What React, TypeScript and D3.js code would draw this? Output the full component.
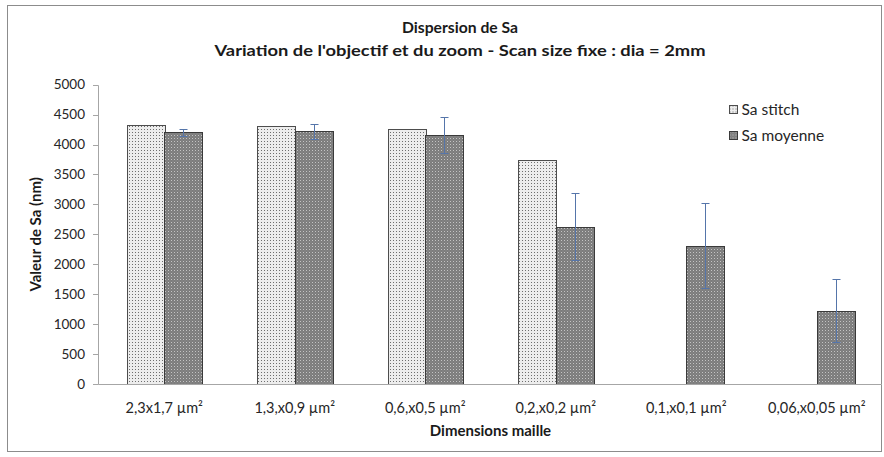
import React from "react";
import * as d3 from "d3";

const categories = ["2,3x1,7 µm²", "1,3,x0,9 µm²", "0,6,x0,5 µm²", "0,2,x0,2 µm²", "0,1,x0,1 µm²", "0,06,x0,05 µm²"];
const series = ["Sa stitch", "Sa moyenne"];
const saStitch: (number | null)[] = [4325, 4305, 4265, 3735, null, null];
const saMoyenne = [4205, 4220, 4160, 2625, 2312, 1222];
const saErr = [61, 122, 298, 558, 715, 526];
const yTicks = [0, 500, 1000, 1500, 2000, 2500, 3000, 3500, 4000, 4500, 5000];

const W = 884;
const H = 457;
const font = "Lato, 'Open Sans', 'DejaVu Sans', sans-serif";

export default function App() {
  const x0 = d3.scaleBand<string>().domain(categories).range([99, 882]).padding(0);
  const x1 = d3.scaleBand<string>().domain(series).range([0, x0.bandwidth()]).paddingInner(0).paddingOuter(0.74);
  const y = d3.scaleLinear().domain([0, 5000]).range([384, 84.7]);
  const snap = (v: number) => Math.round(v) + 0.5;

  return (
    <div style={{ position: "fixed", left: 0, top: 0, width: W, height: H, background: "#fff" }}>
      <svg width={W} height={H} style={{ display: "block", fontFamily: font }}>
        <defs>
          <pattern id="pStitch" patternUnits="userSpaceOnUse" width={3} height={3}>
            <rect width={3} height={3} fill="#ededed" />
            <rect width={1} height={1} fill="#6e6e6e" />
          </pattern>
          <pattern id="pMoy" patternUnits="userSpaceOnUse" width={3} height={3}>
            <rect width={3} height={3} fill="#7c7c7c" />
            <rect width={1} height={1} fill="#c4c4c4" />
            <rect x={1.5} y={1.5} width={1} height={1} fill="#959595" />
          </pattern>
        </defs>
        <rect x={0} y={0} width={W} height={H} fill="#fff" />
        <rect x={7.5} y={5.5} width={874} height={446} fill="#fff" stroke="#8c8c8c" strokeWidth={1} />

        <text x={460} y={33} textAnchor="middle" fontSize={16} fontWeight="bold" fill="#1a1a1a" textLength={116} lengthAdjust="spacingAndGlyphs">Dispersion de Sa</text>
        <text x={460} y={56} textAnchor="middle" fontSize={16} fontWeight="bold" fill="#1a1a1a" textLength={491} lengthAdjust="spacingAndGlyphs">Variation de l'objectif et du zoom - Scan size fixe : dia = 2mm</text>

        {/* y axis */}
        <line x1={98.5} x2={98.5} y1={snap(y(5000))} y2={snap(y(0))} stroke="#a6a6a6" />
        {yTicks.map((t) => (
          <g key={t}>
            <line x1={93} x2={98.5} y1={snap(y(t))} y2={snap(y(t))} stroke="#a6a6a6" />
            <text x={85} y={y(t)} dy="0.35em" textAnchor="end" fontSize={13.5} fill="#262626">{t}</text>
          </g>
        ))}
        <text transform={`translate(36,${(y(0) + y(5000)) / 2}) rotate(-90)`} textAnchor="middle" dy="0.35em" fontSize={15} fontWeight="bold" fill="#1a1a1a">Valeur de Sa (nm)</text>

        {/* bars */}
        {categories.map((c, i) => {
          const s = saStitch[i];
          const m = saMoyenne[i];
          const xs = (x0(c) as number) + (x1("Sa stitch") as number);
          const xm = (x0(c) as number) + (x1("Sa moyenne") as number);
          const bw = x1.bandwidth();
          const cx = xm + bw / 2;
          return (
            <g key={c}>
              {s != null && (
                <rect x={Math.round(xs) + 0.5} y={snap(y(s))} width={Math.round(bw)} height={snap(y(0)) - snap(y(s))} fill="url(#pStitch)" stroke="#4d4d4d" />
              )}
              <rect x={Math.round(xm) + 0.5} y={snap(y(m))} width={Math.round(bw)} height={snap(y(0)) - snap(y(m))} fill="url(#pMoy)" stroke="#3a3a3a" />
              <line x1={Math.round(cx) + 0.5} x2={Math.round(cx) + 0.5} y1={snap(y(m + saErr[i]))} y2={snap(y(m - saErr[i]))} stroke="#5575aa" />
              <line x1={Math.round(cx) - 3.5} x2={Math.round(cx) + 4.5} y1={snap(y(m + saErr[i]))} y2={snap(y(m + saErr[i]))} stroke="#5575aa" />
              <line x1={Math.round(cx) - 3.5} x2={Math.round(cx) + 4.5} y1={snap(y(m - saErr[i]))} y2={snap(y(m - saErr[i]))} stroke="#5575aa" />
              <text x={(x0(c) as number) + x0.bandwidth() / 2} y={408} dy="0.35em" textAnchor="middle" fontSize={14.5} fill="#262626">{c}</text>
            </g>
          );
        })}

        {/* x axis */}
        <line x1={98.5} x2={882} y1={snap(y(0))} y2={snap(y(0))} stroke="#a6a6a6" />
        <text x={(99 + 882) / 2} y={431} dy="0.35em" textAnchor="middle" fontSize={15} fontWeight="bold" fill="#1a1a1a">Dimensions maille</text>

        {/* legend */}
        {series.map((s, i) => (
          <g key={s} transform={`translate(729.5,${105.5 + i * 26})`}>
            <rect width={8} height={8} fill={i === 0 ? "url(#pStitch)" : "url(#pMoy)"} stroke={i === 0 ? "#4d4d4d" : "#3a3a3a"} />
            <text x={12} y={4} dy="0.35em" fontSize={15.5} fill="#262626">{s}</text>
          </g>
        ))}
      </svg>
    </div>
  );
}
